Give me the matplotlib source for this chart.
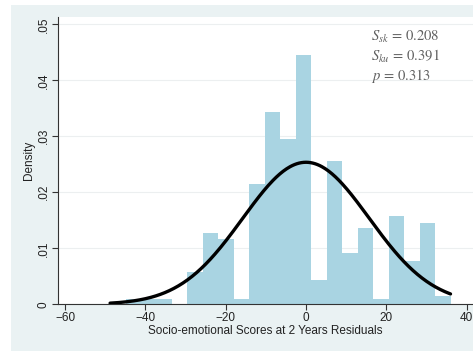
import numpy as np
import matplotlib
matplotlib.use("Agg")
import matplotlib.pyplot as plt

# histogram of residuals: bin edges and density heights
bin_start = -48.8
bin_width = 3.855
densities = [0.0, 0.0009, 0.0009, 0.0009, 0.0, 0.0058, 0.0127, 0.0117,
             0.00095, 0.0215, 0.0343, 0.0295, 0.0446, 0.0043, 0.0255,
             0.0092, 0.0137, 0.0009, 0.0157, 0.0078, 0.0146, 0.0014]

# normal overlay parameters
res_mean = 0.0
res_sd = 15.73
res_min, res_max = -48.8, 36.0

stats_text = [r"$S_{sk}\,=\,0.208$", r"$S_{ku}\,=\,0.391$", r"$p\,=\,0.313$"]

x_ticks = [-60, -40, -20, 0, 20, 40]
y_ticks = [0, 0.01, 0.02, 0.03, 0.04, 0.05]
y_ticklabels = ["0", ".01", ".02", ".03", ".04", ".05"]

plt.rcParams["font.family"] = ["Liberation Sans", "DejaVu Sans"]
plt.rcParams["mathtext.fontset"] = "stix"

W, H = 473, 351
fig = plt.figure(figsize=(W / 100, H / 100), dpi=100)
fig.patch.set_facecolor("white")

# light graph region behind the plot
bg = fig.add_axes([11 / W, 0, 1 - 11 / W, 1 - 5 / H])
bg.set_facecolor("#eaf2f3")
bg.set_xticks([])
bg.set_yticks([])
for s in bg.spines.values():
    s.set_visible(False)
bg.set_zorder(0)

ax_left, ax_right = 58.3, 473
ax_top, ax_bottom = 17, 304.3
ax = fig.add_axes([ax_left / W, 1 - ax_bottom / H,
                   (ax_right - ax_left) / W, (ax_bottom - ax_top) / H])
ax.set_zorder(1)
ax.set_facecolor("white")

edges = bin_start + bin_width * np.arange(len(densities) + 1)
ax.bar(edges[:-1], densities, width=bin_width, align="edge",
       color="#a9d4e2", edgecolor="none", zorder=2)

xs = np.linspace(res_min, res_max, 300)
ys = np.exp(-0.5 * ((xs - res_mean) / res_sd) ** 2) / (res_sd * np.sqrt(2 * np.pi))
ax.plot(xs, ys, color="black", lw=2.4, zorder=3, solid_capstyle="round")

ax.set_xlim(-61.7, 41.6)
ax.set_ylim(0, 0.0513)
ax.set_xticks(x_ticks)
ax.set_yticks(y_ticks)
ax.set_yticklabels(y_ticklabels, rotation=90, va="center")
ax.grid(axis="y", color="#eceff0", lw=0.8, zorder=1)
ax.set_axisbelow(True)
ax.tick_params(axis="both", direction="out", length=4, width=0.8,
               colors="#333333", labelsize=8.5, labelcolor="#222222")
ax.tick_params(axis="x", pad=1.5)
ax.tick_params(axis="y", pad=2)
for side in ["top", "right"]:
    ax.spines[side].set_visible(False)
for side in ["left", "bottom"]:
    ax.spines[side].set_color("#333333")
    ax.spines[side].set_linewidth(0.8)

ax.set_xlabel("Socio-emotional Scores at 2 Years Residuals", fontsize=8.5,
              color="#222222", labelpad=1)
ax.set_ylabel("Density", fontsize=8.5, color="#222222", labelpad=2)

for i, t in enumerate(stats_text):
    fig.text(371 / W, 1 - (37 + 19.5 * i) / H, t, fontsize=10.5,
             color="#606060", ha="left", va="center")

fig.savefig("out.png", dpi=100, facecolor=fig.get_facecolor())
